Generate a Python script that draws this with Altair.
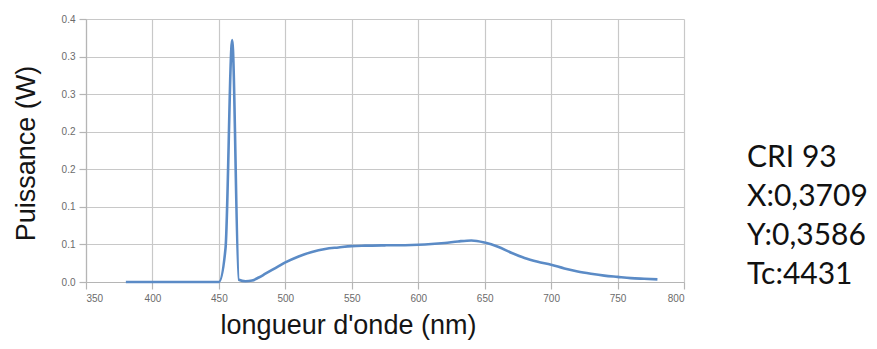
import json
import altair as alt
import pandas as pd

# Spectrum
wavelength = [380, 400, 420, 440, 450, 455, 460, 465, 470, 475, 480, 485, 490, 495,
              500, 510, 520, 530, 540, 550, 560, 575, 590, 600, 610, 620, 630, 640,
              650, 660, 670, 680, 690, 700, 710, 720, 730, 740, 750, 760, 770, 780]
power = [0.0, 0.0, 0.0, 0.0, 0.0, 0.045, 0.322, 0.003, 0.001, 0.002, 0.006, 0.011, 0.016, 0.021,
         0.026, 0.034, 0.040, 0.044, 0.046, 0.0478, 0.0484, 0.0488, 0.049, 0.0495, 0.0505, 0.052, 0.054, 0.0553,
         0.0525, 0.047, 0.039, 0.032, 0.027, 0.023, 0.018, 0.014, 0.011, 0.0085, 0.0068, 0.0052, 0.0043, 0.0035]

x_ticks = [350, 400, 450, 500, 550, 600, 650, 700, 750, 800]
y_ticks = [0.0, 0.05, 0.10, 0.15, 0.20, 0.25, 0.30, 0.35]
y_labels = ["0.0", "0.1", "0.1", "0.2", "0.2", "0.3", "0.3", "0.4"]

info_lines = ["CRI 93", "X:0,3709", "Y:0,3586", "Tc:4431"]

df = pd.DataFrame({"wl": wavelength, "p": power})

line = alt.Chart(df).mark_line(
    interpolate="monotone", color="#5b8bc6", strokeWidth=2.6
).encode(
    x=alt.X("wl:Q",
            scale=alt.Scale(domain=[350, 800], nice=False, zero=False),
            axis=alt.Axis(values=x_ticks, format="d", title="longueur d'onde (nm)",
                          titleX=262, titleY=51, titleBaseline="alphabetic",
                          titleAnchor="start", titleAlign="center")),
    y=alt.Y("p:Q",
            scale=alt.Scale(domain=[0, 0.35], nice=False),
            axis=alt.Axis(values=y_ticks,
                          labelExpr=json.dumps(y_labels) + "[round(datum.value*20)]",
                          title="Puissance (W)", titleAngle=270,
                          titleX=-52, titleY=134, titleBaseline="alphabetic",
                          titleAlign="center")),
)

info = alt.Chart(pd.DataFrame({"k": [0]})).mark_text(
    text=info_lines, align="left", baseline="alphabetic", lineHeight=39,
    font="Lato", fontSize=30, color="#111111"
).encode(x=alt.value(661), y=alt.value(148))

chart = alt.layer(line, info).properties(
    width=598, height=263,
    autosize=alt.AutoSizeParams(type="none"),
    padding={"left": 78, "top": 11, "right": 183, "bottom": 59},
).configure_view(stroke=None).configure_axis(
    gridColor="#c8c8c8", gridWidth=1.2,
    domainColor="#b5b5b5", domainWidth=1.2,
    tickColor="#b5b5b5", tickSize=7, tickWidth=1.2,
    labelColor="#6b6b6b", labelFontSize=10, labelFont="Liberation Sans",
    labelPadding=4,
    titleFont="Liberation Sans", titleFontSize=27, titleFontWeight="normal",
    titleColor="#151515",
)

chart.save("out.html", embed_options={"renderer": "svg", "actions": False})
